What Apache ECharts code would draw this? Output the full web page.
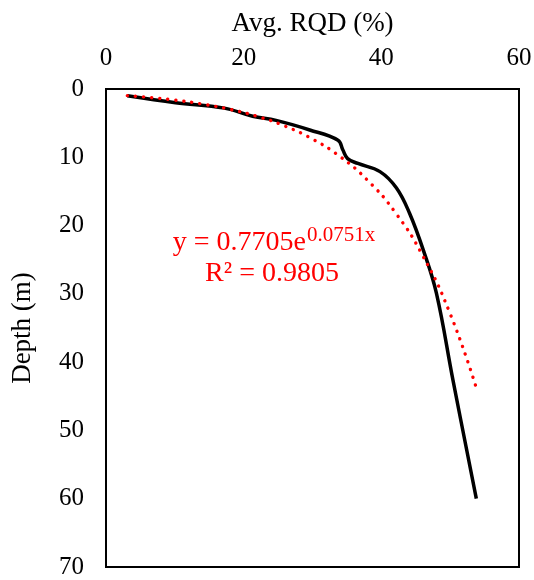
<!DOCTYPE html>
<html>
<head>
<meta charset="utf-8">
<script src="https://cdn.jsdelivr.net/npm/echarts@6/dist/echarts.min.js"></script>
<style>
html,body{margin:0;padding:0;background:#fff;}
#c{width:534px;height:580px;}
</style>
</head>
<body>
<div id="c"></div>
<script>
// Measured curve: Avg. RQD (%) vs depth (m)
const rqd   = [3.1, 10.1, 17.2, 21.3, 24.7, 29.6, 33.7, 34.4, 35.1, 36.6, 39.8, 42.2, 44.1, 46.1, 48.0, 50.4, 53.8];
const depth = [1.0, 2.0, 2.8, 4.0, 4.6, 6.0, 7.5, 8.9, 10.2, 10.9, 12.1, 14.5, 18.2, 23.6, 29.9, 42.6, 60.0];
// Exponential trendline
const trendRqd   = [3.1, 6, 10, 14, 18, 22, 26, 30, 34, 38, 42, 46, 50, 53.8];
const trendDepth = [0.97, 1.21, 1.63, 2.21, 2.98, 4.02, 5.43, 7.33, 9.90, 13.37, 18.05, 24.38, 32.92, 43.79];
const xTicks = [0, 20, 40, 60];
const yTicks = [0, 10, 20, 30, 40, 50, 60, 70];
const eqText = 'y = 0.7705e';
const eqSup = '0.0751x';
const r2Text = 'R² = 0.9805';

const FONT = '"Liberation Serif","Times New Roman",serif';
const chart = echarts.init(document.getElementById('c'), null, {renderer: 'canvas'});
chart.setOption({
  animation: false,
  backgroundColor: '#fff',
  grid: {left: 106, top: 89, right: 15, bottom: 13, show: true, borderColor: '#000', borderWidth: 2, backgroundColor: 'transparent', containLabel: false, outerBoundsMode: 'none'},
  xAxis: {
    type: 'value', position: 'top', min: xTicks[0], max: xTicks[xTicks.length-1], interval: xTicks[1]-xTicks[0],
    axisLine: {show: false}, axisTick: {show: false}, splitLine: {show: false},
    axisLabel: {fontFamily: FONT, fontSize: 25, color: '#000', margin: 18},
    name: 'Avg. RQD (%)', nameLocation: 'middle', nameGap: 52,
    nameTextStyle: {fontFamily: FONT, fontSize: 27, color: '#000'}
  },
  yAxis: {
    type: 'value', inverse: true, min: yTicks[0], max: yTicks[yTicks.length-1], interval: yTicks[1]-yTicks[0],
    axisLine: {show: false}, axisTick: {show: false}, splitLine: {show: false},
    axisLabel: {fontFamily: FONT, fontSize: 25, color: '#000', margin: 22},
    name: 'Depth (m)', nameLocation: 'middle', nameGap: 70, nameRotate: 90,
    nameTextStyle: {fontFamily: FONT, fontSize: 27, color: '#000'}
  },
  series: [
    {
      type: 'line', data: rqd.map((v, i) => [v, depth[i]]), smooth: 0.4,
      showSymbol: false, lineStyle: {color: '#000', width: 3.5}, z: 2
    },
    {
      type: 'line', data: trendRqd.map((v, i) => [v, trendDepth[i]]), smooth: true,
      showSymbol: false, lineStyle: {color: '#ff0000', width: 3.4, type: [0.1, 8], cap: 'round'}, z: 3
    }
  ],
  graphic: [
    {type: 'text', x: 306, y: 243, style: {text: eqText, fill: '#ff0000', font: '28px ' + FONT, textAlign: 'right', textVerticalAlign: 'middle'}},
    {type: 'text', x: 307, y: 235, style: {text: eqSup, fill: '#ff0000', font: '21px ' + FONT, textAlign: 'left', textVerticalAlign: 'middle'}},
    {type: 'text', x: 272, y: 274, style: {text: r2Text, fill: '#ff0000', font: '28px ' + FONT, textAlign: 'center', textVerticalAlign: 'middle'}}
  ]
});
</script>
</body>
</html>
